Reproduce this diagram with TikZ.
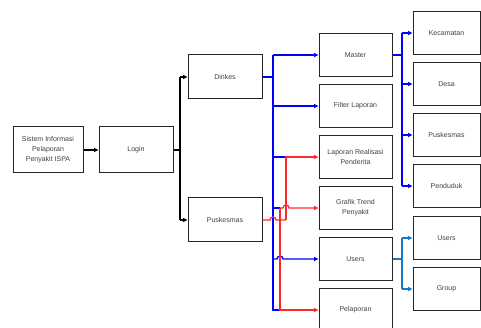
\documentclass[tikz,border=0pt]{standalone}
\usepackage{fontspec}
\setmainfont{Liberation Sans}
\usetikzlibrary{arrows.meta}

\definecolor{hubblue}{RGB}{0,0,255}
\definecolor{hubred}{RGB}{255,40,40}
\definecolor{subblue}{RGB}{20,120,205}

\begin{document}
\begin{tikzpicture}[x=1pt, y=-1pt,
		box/.style={draw=black!85, line width=1pt, minimum width=73pt, minimum height=43pt,
			align=center, inner sep=1pt, text=black!75, font=\fontsize{7}{10}\selectfont},
		leftbox/.style={box, minimum height=46pt},
		subbox/.style={box, minimum width=67pt},
		wire/.style={line width=1.3pt},
		link/.style={wire, -{Triangle[length=4.5pt,width=4pt]}}]

		\useasboundingbox (0,0) rectangle (481,328);
		\clip (0,0) rectangle (481,328);

		\node[leftbox, minimum width=70pt] (sistem) at (48,150) {Sistem Informasi\\Pelaporan\\Penyakit ISPA};
		\node[leftbox, minimum width=74pt] (login) at (136,150) {Login};

		\node[box, minimum width=74pt, minimum height=44pt] (dinkes) at (225,77) {Dinkes};
		\node[box, minimum width=74pt, minimum height=44pt] (pusk) at (225,220) {Puskesmas};

		\node[box] (master) at (355.5,55) {Master};
		\node[box] (filter) at (355.5,106) {Filter Laporan};
		\node[box] (lapreal) at (355.5,157) {Laporan Realisasi\\Penderita};
		\node[box] (grafik) at (355.5,208) {Grafik Trend\\Penyakit};
		\node[box] (users) at (355.5,259) {Users};
		\node[box] (pelap) at (355.5,310) {Pelaporan};

		\node[subbox] (kec) at (446.5,33) {Kecamatan};
		\node[subbox] (desa) at (446.5,84) {Desa};
		\node[subbox] (puskes) at (446.5,135) {Puskesmas};
		\node[subbox] (pend) at (446.5,186) {Penduduk};
		\node[subbox] (usr) at (446.5,238) {Users};
		\node[subbox] (group) at (446.5,289) {Group};

		% login
		\draw[link] (sistem) -- (login);
		\coordinate (lg) at (180,150);
		\draw[wire] (login.east) -- (lg);
		\draw[link] (180,77) -- (dinkes);
		\draw[wire] (180,77) -- (180,220);
		\draw[link] (180,220) -- (pusk);

		% dinkes
		\coordinate (dkTop) at (273,55);
		\coordinate (dkBot) at (273,310);
		\draw[wire, hubblue] (dinkes.east) -- (273,77);
		\draw[wire, hubblue] (dkTop) -- (dkBot) -- (280,310);
		\draw[link, hubblue] (dkTop) -- (master);
		\draw[link, hubblue] (273,106) -- (filter);
		\draw[wire, hubblue] (273,157) -- (286,157);
		\draw[wire, hubblue] (273,208) -- (280,208);
		\draw[link, hubblue] (273,259) -- (277,259) arc[start angle=180, end angle=0, radius=3pt] -- (users.west);

		% puskesmas
		\coordinate (pk) at (270,220);
		\draw[wire, hubred] (pusk.east) -- (pk) arc[start angle=180, end angle=0, radius=3pt] -- (286,220);
		\draw[link, hubred] (286,220) |- (lapreal);
		\draw[link, hubred] (280,208) -- (283,208) arc[start angle=180, end angle=0, radius=3pt] -- (grafik.west);
		\draw[link, hubred] (280,208) |- (pelap);

		% master
		\coordinate (ms) at (402,55);
		\draw[wire, hubblue] (master.east) -- (ms);
		\draw[wire, hubblue] (402,33) -- (402,186);
		\draw[link, hubblue] (402,33) -- (kec);
		\draw[link, hubblue] (402,84) -- (desa);
		\draw[link, hubblue] (402,135) -- (puskes);
		\draw[link, hubblue] (402,186) -- (pend);

		% users
		\coordinate (us) at (402,259);
		\draw[wire, subblue] (users.east) -- (us);
		\draw[wire, subblue] (402,238) -- (402,289);
		\draw[link, subblue] (402,238) -- (usr);
		\draw[link, subblue] (402,289) -- (group);

	\end{tikzpicture}
\end{document}
